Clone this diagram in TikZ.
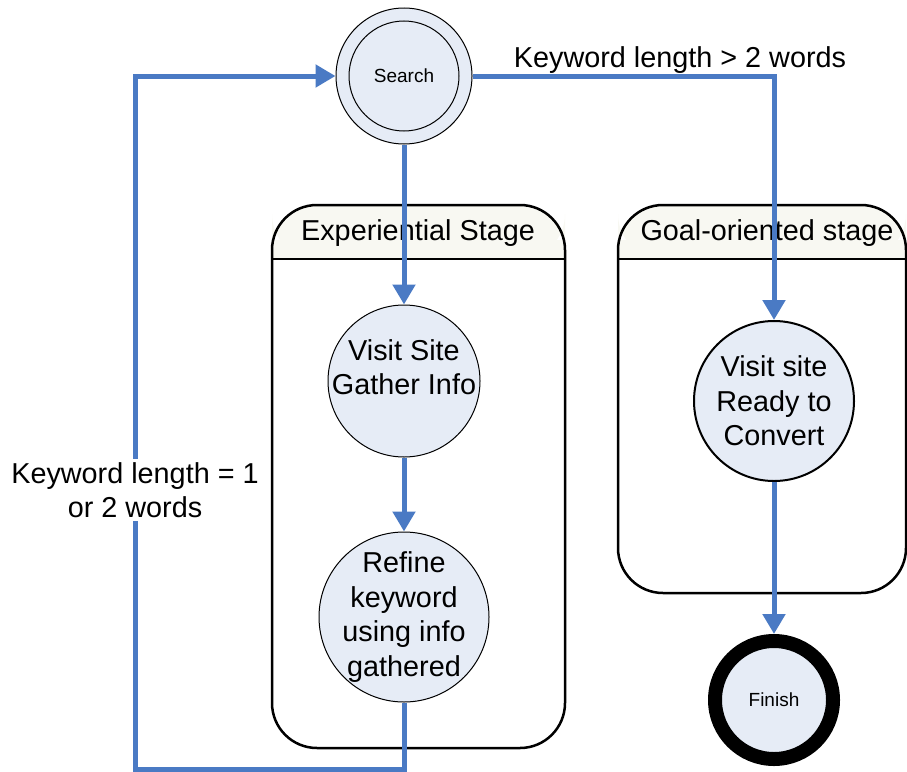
\documentclass[tikz,border=0pt]{standalone}
\usepackage{fontspec}
\setmainfont{Liberation Sans}
\usetikzlibrary{arrows.meta}
\definecolor{flowblue}{RGB}{74,122,196}
\definecolor{nodefill}{RGB}{230,236,246}
\definecolor{headfill}{RGB}{248,248,242}
\tikzset{
  flow/.style={draw=flowblue, line width=5pt},
  flowarrow/.style={flow, -{Triangle[length=20pt,width=22pt]}},
  state/.style={circle, draw=black, line width=1pt, fill=nodefill, align=center, inner sep=-6pt,
     font=\fontsize{28.8}{34.5}\selectfont},
  lane/.style={draw=black, line width=2.5pt},
  lanetitle/.style={font=\fontsize{28.8}{34.5}\selectfont},
  bigtext/.style={font=\fontsize{28.8}{34.5}\selectfont, align=center},
}
\begin{document}
\begin{tikzpicture}[x=1pt,y=-1pt]
\useasboundingbox (0,0) rectangle (907,771);
% swimlanes
\fill[headfill, rounded corners=45pt] (272,259) -- (272,205) -- (565,205) -- (565,259) -- cycle;
\fill[headfill] (272,240) rectangle (565,259);
\draw[lane, rounded corners=45pt] (272,205) rectangle (565,748);
\draw[lane] (272,259) -- (565,259);
\node[lanetitle] (lane1) at (418,233) {Experiential Stage};
\fill[headfill, rounded corners=45pt] (618,259) -- (618,205) -- (906,205) -- (906,259) -- cycle;
\fill[headfill] (618,240) rectangle (906,259);
\draw[lane, rounded corners=45pt] (618,205) rectangle (906,593);
\draw[lane] (618,259) -- (906,259);
\node[lanetitle] (lane2) at (767,233) {Goal-oriented stage};
% nodes
\node[state, minimum size=136pt, font=\fontsize{19}{22}\selectfont] (search) at (404,76) {Search};
\draw[line width=1pt] (search.center) circle (55pt);
\node[state, minimum size=152pt] (visit1) at (404,381) {};
\node[bigtext] (visit1txt) at (404,367) {Visit Site\\Gather Info};
\node[state, minimum size=170pt] (refine) at (404,617) {Refine\\keyword\\using info\\gathered};
\node[state, line width=2pt, minimum size=160pt] (visit2) at (774,401) {Visit site\\Ready to\\Convert};
\node[state, line width=14pt, minimum size=118pt, font=\fontsize{19}{22}\selectfont] (finish) at (774,700) {Finish};
% coordinates
\coordinate (bl) at (404,769);
\coordinate (blL) at (135,769);
\coordinate (tl) at (135,76);
% connectors
\draw[flowarrow] (refine.south) -- (bl) -- (blL) -- (tl) -- (search.west);
\draw[flowarrow] (search.east) -| (visit2.north);
\draw[flowarrow] (search.south) -- (visit1.north);
\draw[flowarrow] (visit1.south) -- (refine.north);
\draw[flowarrow] (visit2.south) -- (finish.north);
% labels
\node[bigtext, anchor=south] (lblright) at (680,77) {Keyword length > 2 words};
\node[bigtext, fill=white, inner sep=3pt] (lblleft) at (135,490) {Keyword length = 1\\or 2 words};
\end{tikzpicture}
\end{document}
